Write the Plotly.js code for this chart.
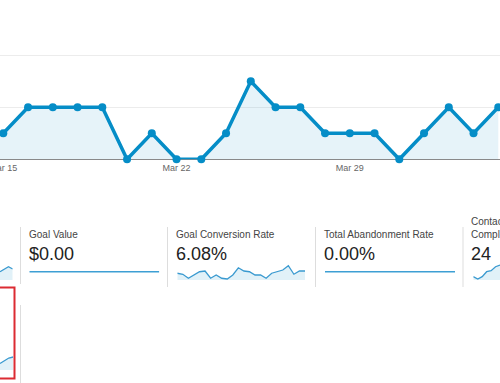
<!DOCTYPE html>
<html>
<head>
<meta charset="utf-8">
<script src="https://cdn.plot.ly/plotly-3.0.1.min.js"></script>
<style>
html,body{margin:0;padding:0;background:#fff;overflow:hidden;}
#chart{width:500px;height:383px;}
</style>
</head>
<body>
<div id="chart"></div>
<script>
// ---- Main chart data (daily goal completions) ----
const dates = ['2015-03-14','2015-03-15','2015-03-16','2015-03-17','2015-03-18','2015-03-19','2015-03-20',
  '2015-03-21','2015-03-22','2015-03-23','2015-03-24','2015-03-25','2015-03-26','2015-03-27','2015-03-28',
  '2015-03-29','2015-03-30','2015-03-31','2015-04-01','2015-04-02','2015-04-03','2015-04-04'];
const completions = [1,1,2,2,2,2,0,1,0,0,1,3,2,2,1,1,1,0,1,2,1,2];
const tickDates = ['2015-03-15','2015-03-22','2015-03-29'];
const tickLabels = ['Mar 15','Mar 22','Mar 29'];

// ---- Scorecards ----
const cardTitles = ['Goal Value','Goal Conversion Rate','Total Abandonment Rate','Contact Form<br>Completions'];
const cardValues = ['$0.00','6.08%','0.00%','24'];

// ---- Sparkline data ----
const sparkPrevTop = [8.3, 11, 13.3, 11];
const sparkGoalValue = [0,0,0,0,0,0,0,0,0,0,0,0,0,0,0,0,0,0,0,0,0,0,0,0];
const sparkConvRate = [6.2,5.8,4.2,5.5,6.8,7.1,4.2,5.5,4.2,3.9,5.5,8.4,7.1,6.8,5.5,5.5,4.2,6.2,6.8,7.5,9.2,5.8,7.1,7.1];
const sparkAbandon = [0,0,0,0,0,0,0,0,0,0,0,0,0,0,0,0,0,0,0,0,0,0,0,0];
const sparkContact = [3.3, 1, 3.3, 8.3, 9.3, 13.3, 15];
const sparkPrevBottom = [6.5, 9.5, 12, 13];

const BLUE = '#058dc7';
const FILL = 'rgba(5,141,199,0.1)';
const W = 500, H = 383;
const px = x => x / W;
const py = y => 1 - y / H;
const idx = a => a.map((_, i) => i);

function spark(vals, ax, flat) {
  return {
    x: idx(vals), y: vals, type: 'scatter', mode: 'lines',
    xaxis: 'x' + ax, yaxis: 'y' + ax,
    line: {color: flat ? '#3d9fd4' : '#3a9ad0', width: flat ? 1.6 : 1.3},
    fill: flat ? 'none' : 'tozeroy', fillcolor: 'rgba(5,141,199,0.12)',
    hoverinfo: 'skip', showlegend: false
  };
}

const traces = [
  {
    x: dates, y: completions, type: 'scatter', mode: 'lines+markers',
    line: {color: BLUE, width: 3.5},
    marker: {color: BLUE, size: 8},
    fill: 'tozeroy', fillcolor: FILL,
    cliponaxis: false, showlegend: false
  },
  spark(sparkPrevTop, 2),
  spark(sparkGoalValue, 3, true),
  spark(sparkConvRate, 4),
  spark(sparkAbandon, 5, true),
  spark(sparkContact, 6),
  spark(sparkPrevBottom, 7)
];

function hidden(domain, range) {
  return {domain: domain, range: range, visible: false, fixedrange: true};
}

const sparkY = [py(280), py(264)];
const flatY = [py(281.7), py(261.7)];

const layout = {
  width: W, height: H,
  margin: {l: 0, r: 0, t: 0, b: 0},
  paper_bgcolor: '#fff', plot_bgcolor: 'rgba(0,0,0,0)',
  font: {family: '"Liberation Sans", Arial, sans-serif', color: '#333'},
  showlegend: false,
  xaxis: {
    type: 'date', range: ['2015-03-14 20:48', '2015-04-04 01:40'],
    domain: [0, 1],
    tickvals: tickDates, ticktext: tickLabels,
    ticks: '', showgrid: false, zeroline: false,
    showline: true, linecolor: '#8a8a8a', linewidth: 1,
    layer: 'below traces',
    tickfont: {size: 9, color: '#666'},
    ticklabeloverflow: 'allow',
    fixedrange: true
  },
  yaxis: {
    range: [0, 6], domain: [py(159.3), py(3.3)],
    tickvals: [2, 4], showticklabels: false, ticks: '',
    showgrid: true, gridcolor: '#ececec', gridwidth: 1,
    zeroline: false, fixedrange: true
  },
  xaxis2: hidden([0, px(12.7)], [0, 3]),
  yaxis2: hidden(sparkY, [0, 16]),
  xaxis3: hidden([px(29.3), px(159.3)], [0, 23]),
  yaxis3: hidden(flatY, [-1, 1]),
  xaxis4: hidden([px(177.3), px(305)], [0, 23]),
  yaxis4: hidden(sparkY, [3.5, 9.9]),
  xaxis5: hidden([px(325), px(455)], [0, 23]),
  yaxis5: hidden(flatY, [-1, 1]),
  xaxis6: hidden([px(473.3), 1], [0, 6]),
  yaxis6: hidden(sparkY, [0, 16]),
  xaxis7: hidden([0, px(13.2)], [0, 3]),
  yaxis7: hidden([py(370), py(354)], [0, 16]),
  shapes: [
    {type: 'line', xref: 'paper', yref: 'paper', x0: px(20.5), x1: px(20.5), y0: py(227), y1: py(284), line: {color: '#dddddd', width: 1}},
    {type: 'line', xref: 'paper', yref: 'paper', x0: px(167.5), x1: px(167.5), y0: py(227), y1: py(287), line: {color: '#dddddd', width: 1}},
    {type: 'line', xref: 'paper', yref: 'paper', x0: px(315.5), x1: px(315.5), y0: py(227), y1: py(287), line: {color: '#dddddd', width: 1}},
    {type: 'line', xref: 'paper', yref: 'paper', x0: px(463), x1: px(463), y0: py(227), y1: py(287), line: {color: '#dddddd', width: 1}},
    {type: 'line', xref: 'paper', yref: 'paper', x0: px(20.5), x1: px(20.5), y0: py(305), y1: py(383), line: {color: '#dddddd', width: 1}},
    {type: 'rect', xref: 'paper', yref: 'paper', x0: px(-3), x1: px(14.5), y0: py(378.5), y1: py(287.5), line: {color: '#dc2b32', width: 2}, fillcolor: 'rgba(0,0,0,0)'}
  ],
  annotations: []
};

const cardX = [26.5, 174, 321.8, 469.2];
cardTitles.forEach((t, i) => {
  const twoLine = t.indexOf('<br>') >= 0;
  layout.annotations.push({
    xref: 'paper', yref: 'paper', x: px(cardX[i]), y: py(twoLine ? 227.5 : 234),
    xanchor: 'left', yanchor: 'middle', align: 'left', showarrow: false,
    text: t, font: {size: 10, color: '#444'}
  });
  layout.annotations.push({
    xref: 'paper', yref: 'paper', x: px(cardX[i]), y: py(253.5),
    xanchor: 'left', yanchor: 'middle', align: 'left', showarrow: false,
    text: cardValues[i], font: {size: 18, color: '#222'}
  });
});

Plotly.newPlot('chart', traces, layout, {displayModeBar: false, staticPlot: true});
</script>
</body>
</html>
